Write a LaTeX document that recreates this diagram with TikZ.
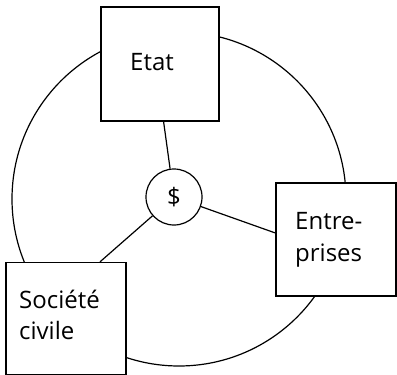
\documentclass[tikz,border=0pt]{standalone}
\usepackage{fontspec}
\setmainfont{Open Sans}
\usetikzlibrary{calc}
\begin{document}
\begin{tikzpicture}[x=1pt,y=-1pt,
  line/.style={line width=1.2pt,black},
  box/.style={draw,line width=1.2pt,fill=white,inner sep=0pt},
  lab/.style={font=\fontsize{24}{32}\selectfont,inner sep=0pt,anchor=base west}]
\useasboundingbox (0,0) rectangle (397,375);
% big circle
\draw[line] (179,199) circle[radius=167];
% boxes
\node[box,minimum width=118pt,minimum height=114pt] (etat) at (160,64) {};
\node[box,minimum width=120pt,minimum height=113pt] (entr) at (336,239.5) {};
\node[box,minimum width=120pt,minimum height=112pt] (soc) at (66,318.5) {};
% central circle
\node[draw,line width=1.2pt,circle,minimum size=56pt,inner sep=0pt,fill=white,font=\fontsize{24}{28}\selectfont] (dollar) at (174,197) {\$};
% connectors
\draw[line] (dollar) -- ($(etat.south west)!0.53!(etat.south east)$);
\draw[line] (dollar) -- ($(entr.west)+(0,-6.5)$);
\draw[line] (dollar) -- ($(soc.north west)!0.78!(soc.north east)$);
% labels
\node[lab] (tetat) at (130,70) {Etat};
\node[lab] (tentr1) at (295,229) {Entre-};
\node[lab] (tentr2) at (295,261) {prises};
\node[lab] (tsoc1) at (19,308) {Société};
\node[lab] (tsoc2) at (19,339) {civile};
\end{tikzpicture}
\end{document}
